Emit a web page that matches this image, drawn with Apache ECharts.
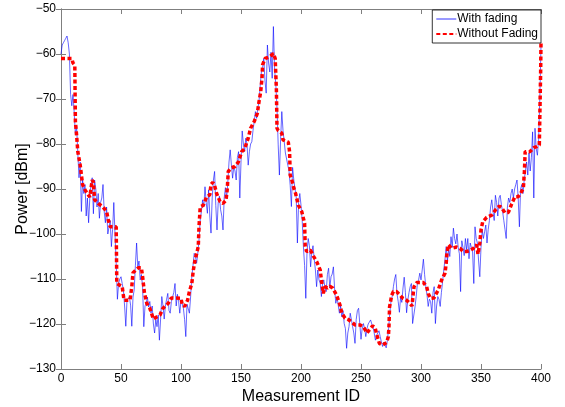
<!DOCTYPE html>
<html>
<head>
<meta charset="utf-8">
<script src="https://cdn.jsdelivr.net/npm/echarts@6/dist/echarts.min.js"></script>
<style>
html, body { margin: 0; padding: 0; background: #fff; }
#chart { width: 565px; height: 407px; }
</style>
</head>
<body>
<div id="chart"></div>
<script>
// measured power with fading, one value per measurement ID 0..400
var withFading = [
  -60, -58, -57.5, -57, -56.5, -56, -57.5, -60, -69, -71.5,
  -69, -73, -78, -76, -82, -87.5, -84, -95, -88, -91,
  -89, -96, -92, -97.5, -92, -89, -87.5, -95.5, -88, -90,
  -94, -91, -96.5, -93, -92, -89, -95, -97.5, -94, -100,
  -99.8, -97, -102.8, -99, -93, -100, -106.5, -114.5, -111, -110,
  -109.5, -111, -112.5, -116, -120.5, -114.7, -115, -114, -115.8, -120.5,
  -114, -112.4, -107, -102, -107.3, -106, -110.2, -109, -111.7, -120.6,
  -116, -115.4, -114, -116.2, -115, -117.6, -116, -120, -122, -119,
  -120.6, -118, -123.6, -118.9, -113.9, -116, -118.9, -116, -114.5, -113.2,
  -117, -117.6, -115, -114, -113, -111, -116, -113.4, -115, -117.6,
  -114.6, -115, -116.5, -119, -122.8, -115.6, -116, -117.6, -114, -109.5,
  -107, -104.3, -105, -106.5, -104.3, -101.3, -96.9, -95, -92.4, -94,
  -89.5, -93, -95.4, -90.2, -96, -99.8, -92, -88, -86.1, -93.7,
  -99.1, -93, -91.6, -94.6, -96, -99.1, -92, -89.7, -92.1, -88.6,
  -84, -81.3, -84.7, -87.6, -85, -86, -88, -83, -81.7, -92,
  -84, -77.1, -80, -81.7, -78.7, -80, -84.7, -81.7, -80, -79.5,
  -77, -75, -72.8, -74.3, -72, -70.6, -67, -64, -63, -61,
  -66, -68.7, -58, -62, -64, -59.6, -65.4, -53.9, -63.5, -66.7,
  -72, -80.2, -86.9, -79, -72.8, -77, -79.4, -82, -81.7, -84.7,
  -86, -89.2, -93.9, -85.2, -88, -90, -91.6, -102, -93, -91,
  -93.6, -97, -102.8, -107, -114.3, -104, -101, -102.6, -107.3, -104,
  -102.6, -105.5, -108, -111.7, -108, -110.2, -111, -113.9, -111, -110.2,
  -112, -112.8, -109, -107.6, -112, -109.5, -108.9, -107.3, -112.2, -115.4,
  -114, -113.6, -117.6, -116, -118.4, -117, -119.9, -121, -125.4, -122,
  -120.6, -117.6, -119, -120.6, -122, -124.3, -119, -117, -116.5, -120,
  -123.4, -121, -119.9, -121, -122.8, -121, -120, -119.9, -119.1, -120,
  -120.6, -122, -123.6, -122.5, -122, -121.5, -122.8, -124, -125, -124,
  -123.6, -125.3, -123.6, -121, -117.6, -115, -113.9, -111.7, -110, -109,
  -113.3, -115, -117.4, -114, -115.2, -112, -109.6, -113, -117.5, -114.7,
  -113, -111.7, -111, -119.9, -120.2, -116.2, -113.9, -111, -110.2, -108.7,
  -110.2, -108, -105.6, -109, -111.7, -113.5, -116.1, -114.5, -115, -117.6,
  -113, -111.7, -119.9, -116, -113.9, -114.5, -116.1, -113, -110.6, -108,
  -105.6, -102.8, -106, -103.4, -105, -100.6, -103, -98.7, -101, -102.2,
  -100, -103, -104.4, -112.8, -101.5, -103, -104.8, -101, -103.5, -101,
  -105.5, -102, -103, -104, -111, -98.4, -101, -102, -106, -109.5,
  -103, -99, -101, -99.5, -98, -102, -99, -97, -94, -92.4,
  -95, -97, -91.4, -93, -96, -92, -91.4, -93.5, -95, -97,
  -99, -101, -94, -92, -93, -91, -90, -92, -90, -89,
  -88, -92, -98.4, -90, -89, -91, -88, -86, -84, -86.9,
  -82, -86, -83, -77.3, -92, -76.5, -81, -82.5, -79, -70,
  -58
];

// power without fading (breakpoints of the step-like curve)
var noFadingX = [
  0, 9, 10, 11.5, 12, 13, 14, 16, 18, 20, 22, 24, 25.5, 26, 27, 28, 31, 35, 38, 39.5,
  41, 46, 46.5, 51, 52.5, 57.5, 59, 60, 64.5, 67, 68, 69.5, 71.5, 74, 77, 80, 82.5, 85, 89.4, 92,
  100, 101, 103, 105.5, 107, 109, 110.3, 111.7, 114.4, 115, 116, 118.6, 121.4, 124, 125, 126.5, 128, 129.7, 132.5, 135,
  137.5, 138.5, 139.4, 142, 145, 147.8, 150.6, 153, 156, 158, 161, 163.6, 165, 166.4, 167.5, 168, 170, 174, 177, 178.5,
  179.5, 180, 181, 184, 185, 189.4, 190.5, 191, 192, 194, 195.5, 197.8, 200.6, 202, 203, 203.5, 204.7, 208, 210.3, 213,
  216, 217, 218.6, 220, 222, 224, 226.4, 229.7, 232.5, 234, 236.7, 239.4, 242, 245, 246.4, 249, 252, 255, 257, 259.7,
  261.7, 263.6, 265.3, 268, 271.4, 272.8, 273.3, 273.8, 275.6, 277, 279.7, 282.5, 285, 288, 291, 292.5, 293.6, 294.2, 296.4, 302,
  304.7, 306, 308, 310.8, 314.4, 317.2, 320, 321, 321.6, 322.8, 325.6, 329.7, 332.5, 335.3, 338, 341, 343.6, 346.4, 347.5, 348.3,
  349, 350, 351.4, 354.7, 359, 362.5, 365.3, 367, 370, 372.8, 375.6, 378.3, 381, 383, 385.3, 386.2, 386.8, 390.8, 394, 396.4,
  398.6, 399.2, 399.7, 400
];
var noFadingY = [
  -61, -61, -62, -62.5, -75, -78, -81.7, -84.7, -89, -90.2, -91, -91.8, -91.5, -88, -88.5, -92.4, -93.2, -94, -95, -97,
  -98.4, -98.4, -111, -111.7, -114.7, -114.7, -111.7, -108.6, -107.5, -107.5, -109.5, -113, -115.4, -116.5, -118.9, -118.4, -118, -116.5, -115.4, -114.2,
  -114.3, -115.7, -116.1, -114.7, -112.8, -111, -108, -105.8, -102.8, -98.4, -94, -93.6, -91.7, -91.3, -89, -88.5, -89.2, -91, -92.8, -93.2,
  -92.5, -90.2, -86.1, -85.3, -85, -84, -81.7, -81.1, -78.7, -76.5, -75, -73.2, -70.6, -68.4, -65.4, -62.4, -61, -60.6, -59.9, -61,
  -68, -76.5, -77, -77.6, -79.1, -79.6, -81.7, -86.9, -87.6, -89.8, -91, -93.6, -95, -95.4, -97.6, -102.8, -103.9, -103.6, -104.9, -106.1,
  -108, -110.2, -113.2, -111.7, -112, -111.6, -112, -113.6, -115.8, -117.6, -118.7, -119, -119.5, -120.2, -120.6, -120.2, -120.6, -122, -121.3, -120.4,
  -120.8, -122.8, -124.3, -124.7, -124.1, -122.8, -120.6, -116.2, -113.6, -112.8, -112.8, -113.6, -114.3, -114.7, -115.5, -116, -113, -111.7, -110.8, -110.8,
  -111.7, -113.2, -114.3, -114.2, -112.4, -110.2, -108.7, -106.5, -104.3, -102.4, -103.2, -102.9, -103.2, -103.9, -103.9, -103.6, -103.2, -102.4, -104.5, -104.8,
  -102, -99.1, -97.3, -96.3, -95.8, -94.5, -93.8, -94.1, -95.3, -95.2, -93.3, -91.7, -91.7, -91, -89.8, -86, -81.7, -81.7, -80.8, -80.6,
  -80.2, -71.3, -64, -57.3
];

var xMin = 0, xMax = 400, xStep = 50;
var yMin = -130, yMax = -50, yStep = 10;

var axisGray = '#7f7f7f';
var font = 'Liberation Sans, Arial, Helvetica, sans-serif';

function minus(v) {
  return String(v).replace('-', '\u2212');
}

var chart = echarts.init(document.getElementById('chart'));
chart.setOption({
  animation: false,
  grid: { left: 61, right: 24, top: 9, bottom: 38, outerBoundsMode: 'none', containLabel: false },
  legend: {
    orient: 'vertical',
    right: 24,
    top: 10,
    backgroundColor: '#fff',
    borderColor: '#000',
    borderWidth: 0.8,
    borderRadius: 0,
    padding: [3, 3, 3, 3],
    itemGap: 3,
    itemWidth: 20,
    itemHeight: 12,
    itemStyle: { opacity: 0 },
    textStyle: { fontFamily: font, fontSize: 12, color: '#000', padding: [0, 0, 0, -4] },
    data: [
      { name: 'With fading', lineStyle: { width: 0.8 } },
      { name: 'Without Fading' }
    ]
  },
  xAxis: [
    {
      type: 'value', min: xMin, max: xMax, interval: xStep,
      name: 'Measurement ID', nameLocation: 'middle', nameGap: 20, nameMoveOverlap: false,
      nameTextStyle: { fontFamily: font, fontSize: 16, color: '#000' },
      axisLine: { lineStyle: { color: axisGray, width: 1 } },
      axisTick: { inside: true, length: 5, lineStyle: { color: axisGray } },
      axisLabel: { fontFamily: font, fontSize: 12, color: '#000', margin: 4 },
      splitLine: { show: false }
    },
    {
      type: 'value', position: 'top', min: xMin, max: xMax, interval: xStep,
      axisLine: { show: true, lineStyle: { color: axisGray, width: 1 } },
      axisTick: { inside: true, length: 5, lineStyle: { color: axisGray } },
      axisLabel: { show: false },
      splitLine: { show: false }
    }
  ],
  yAxis: [
    {
      type: 'value', min: yMin, max: yMax, interval: yStep,
      name: 'Power [dBm]', nameLocation: 'middle', nameGap: 30, nameMoveOverlap: false,
      nameTextStyle: { fontFamily: font, fontSize: 16, color: '#000' },
      axisLine: { show: true, lineStyle: { color: axisGray, width: 1 } },
      axisTick: { show: true, inside: true, length: 5, lineStyle: { color: axisGray } },
      axisLabel: { fontFamily: font, fontSize: 12, color: '#000', margin: 5, formatter: minus },
      splitLine: { show: false }
    },
    {
      type: 'value', position: 'right', min: yMin, max: yMax, interval: yStep,
      axisLine: { show: true, lineStyle: { color: axisGray, width: 1 } },
      axisTick: { show: true, inside: true, length: 5, lineStyle: { color: axisGray } },
      axisLabel: { show: false },
      splitLine: { show: false }
    }
  ],
  series: [
    {
      name: 'With fading',
      type: 'line',
      showSymbol: false,
      symbol: 'none',
      color: '#0000ff',
      lineStyle: { color: '#0000ff', width: 0.6 },
      data: withFading.map(function (v, i) { return [i, v]; }),
      z: 2
    },
    {
      name: 'Without Fading',
      type: 'line',
      showSymbol: false,
      symbol: 'none',
      color: '#ff0000',
      lineStyle: { color: '#ff0000', width: 3.5, type: [4, 2.5] },
      data: noFadingX.map(function (x, i) { return [x, noFadingY[i]]; }),
      z: 3
    }
  ]
});
</script>
</body>
</html>
